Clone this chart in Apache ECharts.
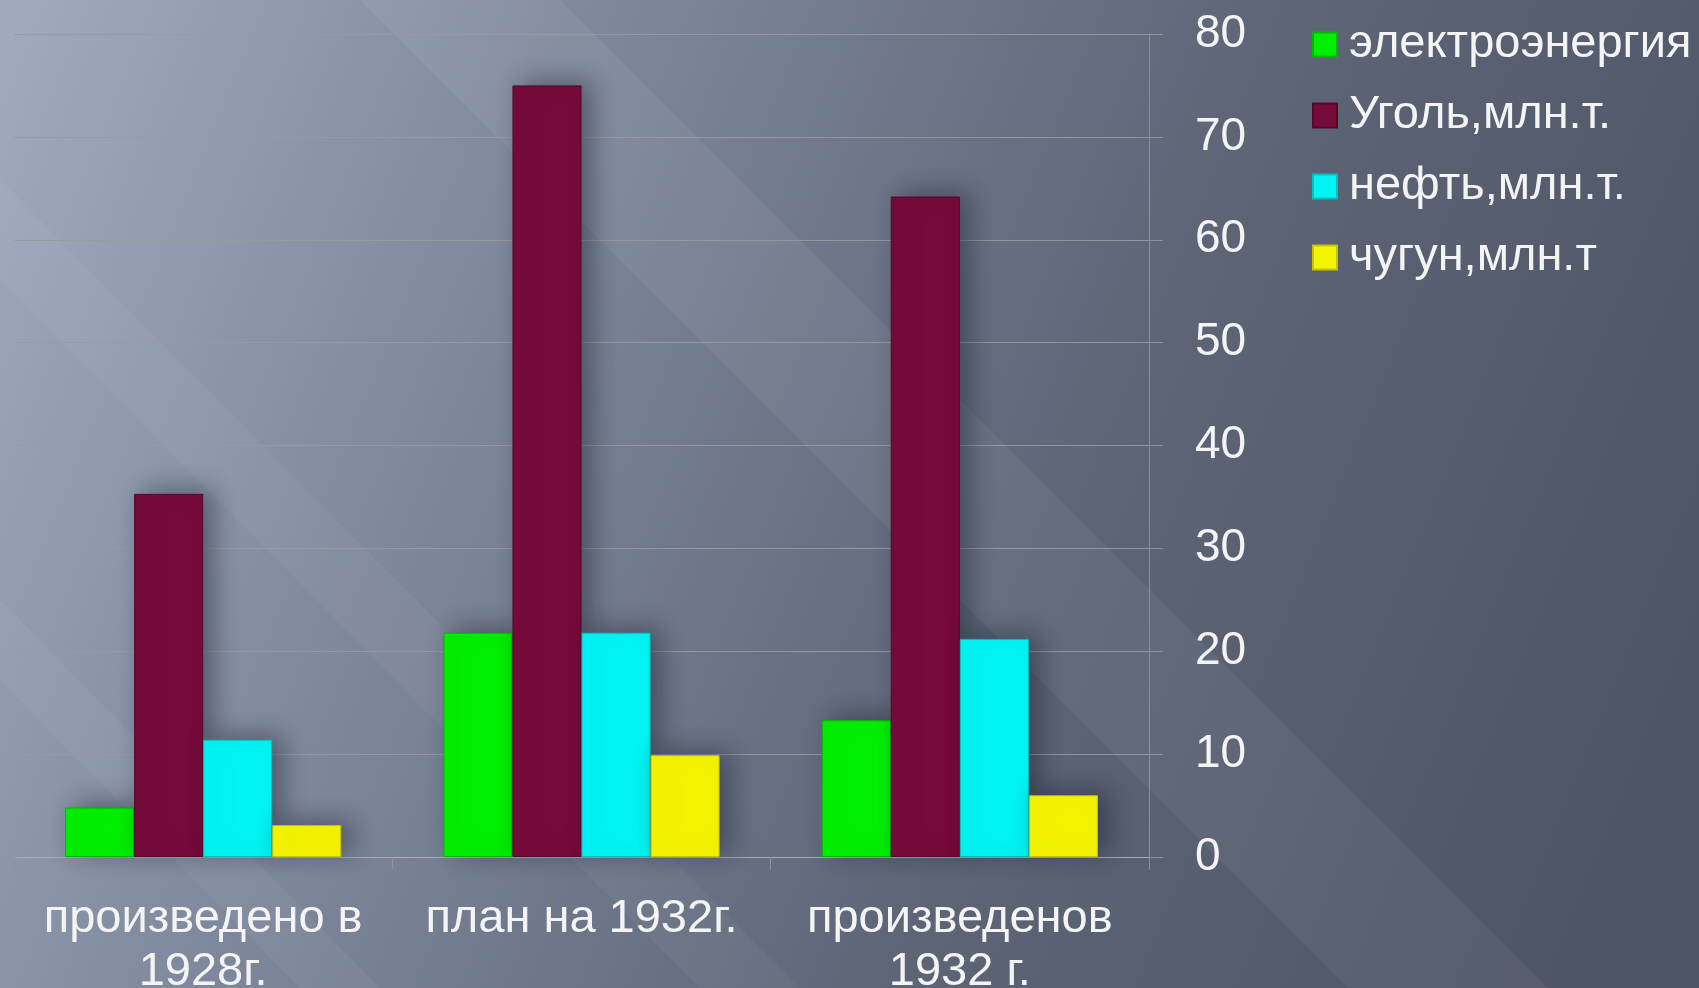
<!DOCTYPE html>
<html>
<head>
<meta charset="utf-8">
<script src="https://cdn.jsdelivr.net/npm/echarts@6/dist/echarts.min.js"></script>
<style>
  html, body { margin: 0; padding: 0; }
  #chart { width: 1699px; height: 988px; }
</style>
</head>
<body>
<div id="chart"></div>
<script>
// данные с диаграммы
var categories = ['произведено в\n1928г.', 'план на 1932г.', 'произведенов\n1932 г.'];
var seriesNames = ['электроэнергия', 'Уголь,млн.т.', 'нефть,млн.т.', 'чугун,млн.т'];
var power = [4.8, 21.8, 13.3];
var coal = [35.3, 75, 64.2];
var oil = [11.4, 21.8, 21.2];
var iron = [3.1, 9.9, 6.0];
var yTicks = [0, 80, 10]; // min, max, interval

var colors = ['#00ef00', '#760b3b', '#00f4f4', '#f4f400'];
var borders = ['#00b800', '#55072a', '#00c0c0', '#c4c400'];

var chart = echarts.init(document.getElementById('chart'));

var font = 'Liberation Sans';
var values = [power, coal, oil, iron];

var series = [];
for (var i = 0; i < seriesNames.length; i++) {
  series.push({
    name: seriesNames[i],
    type: 'bar',
    data: values[i],
    barGap: '0%',
    barCategoryGap: '27%',
    itemStyle: {
      color: colors[i],
      borderColor: borders[i],
      borderWidth: 1,
      shadowColor: 'rgba(25,30,45,0.45)',
      shadowBlur: 24,
      shadowOffsetX: 10,
      shadowOffsetY: -4
    }
  });
}

var option = {
  backgroundColor: new echarts.graphic.LinearGradient(0, 0, 1, 0.7, [
    { offset: 0, color: '#a0abc0' },
    { offset: 0.3, color: '#7f899d' },
    { offset: 0.65, color: '#5d6577' },
    { offset: 1, color: '#4d5465' }
  ]),
  textStyle: { fontFamily: font },
  color: colors,
  graphic: [
    // светлые диагональные полосы фона
    {
      type: 'polygon', z: -10, silent: true,
      shape: { points: [[360, 0], [560, 0], [1699, 1139], [1699, 1339]] },
      style: { fill: 'rgba(255,255,255,0.05)' }
    },
    {
      type: 'polygon', z: -10, silent: true,
      shape: { points: [[0, 600], [0, 680], [300, 988], [380, 988]] },
      style: { fill: 'rgba(255,255,255,0.045)' }
    },
    {
      type: 'polygon', z: -10, silent: true,
      shape: { points: [[0, 180], [0, 280], [700, 988], [800, 988]] },
      style: { fill: 'rgba(255,255,255,0.04)' }
    }
  ],
  legend: {
    orient: 'vertical',
    left: 1307,
    top: 16,
    itemWidth: 24,
    itemHeight: 24,
    itemGap: 24,
    icon: 'rect',
    textStyle: { color: '#f4f4f4', fontSize: 47, lineHeight: 46, fontFamily: font, padding: [0, 0, 0, 7] },
    data: seriesNames
  },
  grid: {
    left: 14,
    right: 550,
    top: 34,
    bottom: 131,
    containLabel: false,
    outerBoundsMode: 'none'
  },
  xAxis: {
    type: 'category',
    data: categories,
    axisLine: { lineStyle: { color: '#a8acb4', width: 1 } },
    axisTick: { show: true, length: 13, lineStyle: { color: '#8c929c' } },
    axisLabel: {
      color: '#f4f4f4',
      fontSize: 47,
      lineHeight: 53,
      margin: 36,
      interval: 0,
      hideOverlap: false,
      fontFamily: font
    }
  },
  yAxis: {
    type: 'value',
    position: 'right',
    min: yTicks[0],
    max: yTicks[1],
    interval: yTicks[2],
    axisLine: { show: true, lineStyle: { color: '#8c929c', width: 1 } },
    axisTick: { show: true, inside: false, length: 14, lineStyle: { color: '#8c929c' } },
    axisLabel: {
      color: '#f4f4f4',
      fontSize: 46,
      margin: 46,
      fontFamily: font
    },
    splitLine: { lineStyle: { color: 'rgba(150,155,162,0.9)', width: 1 } }
  },
  series: series
};

chart.setOption(option);
</script>
</body>
</html>
